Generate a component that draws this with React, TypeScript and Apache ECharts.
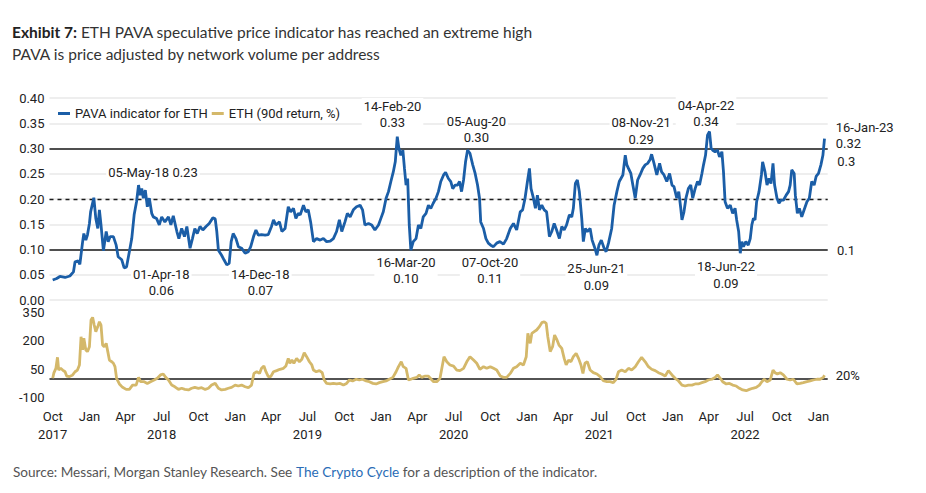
import React, { useEffect, useRef } from "react";
import * as echarts from "echarts";

// ---------- DATA ----------
const START_DATE = "2017-10-01"; // day 0 of the day offsets below

// PAVA indicator for ETH: day offset from START_DATE, value
const pavaDay = [
  0, 10, 18, 31, 43, 52, 56, 64, 68, 75, 78, 83, 87, 92, 95, 103, 108, 113, 117, 121,
  127, 134, 139, 144, 152, 159, 164, 173, 179, 185, 192, 198, 204, 210, 215, 219, 223, 227, 232, 237,
  242, 248, 252, 260, 267, 273, 281, 290, 296, 302, 311, 316, 323, 330, 336, 344, 350, 356, 362, 369,
  376, 384, 392, 401, 407, 411, 415, 423, 429, 436, 442, 447, 452, 459, 465, 473, 482, 490, 496, 503,
  509, 515, 523, 532, 540, 548, 553, 559, 568, 574, 582, 590, 596, 603, 609, 615,
  620, 628, 634, 640, 646, 653, 661, 670, 678, 686, 695, 703, 711, 718, 724, 732, 738, 745, 753, 761,
  770, 776, 782, 791, 799, 807, 816, 822, 828, 835, 841, 847, 853, 858, 863, 867, 872, 877, 881, 885,
  889, 893, 897, 903, 910, 916, 922, 928, 935, 941, 947, 953, 960, 966, 972, 979, 984, 991, 997, 1002,
  1008, 1014, 1019, 1024, 1029, 1034, 1039, 1045, 1052, 1058, 1064, 1069, 1072, 1079, 1085, 1091, 1097, 1104, 1112, 1120,
  1129, 1137, 1146, 1154, 1162, 1171, 1177, 1183, 1189, 1194, 1198, 1204, 1209, 1214, 1219, 1225, 1231, 1237, 1244, 1250,
  1256, 1262, 1269, 1275, 1281, 1287, 1294, 1300, 1304, 1309, 1314, 1319, 1325, 1329, 1334, 1339, 1346, 1351, 1358, 1363,
  1368, 1374, 1381, 1386, 1392, 1400, 1406, 1413, 1419,
  1428, 1434, 1438, 1442, 1448, 1453, 1459, 1465, 1471, 1478, 1484, 1490, 1496, 1500, 1506, 1513, 1520, 1525, 1531, 1538,
  1545, 1551, 1556, 1563, 1568, 1573, 1576, 1581, 1586, 1592, 1598, 1603, 1609, 1615, 1620, 1626, 1630, 1635, 1640, 1645,
  1649, 1653, 1659, 1665, 1670, 1676, 1680, 1684, 1690, 1697, 1703, 1709, 1713, 1718, 1722, 1726, 1730, 1736, 1742, 1747,
  1751, 1755, 1759, 1763, 1769, 1775, 1778, 1784, 1789, 1794, 1799, 1804, 1808, 1814, 1819, 1824, 1830, 1837, 1843, 1847,
  1851, 1857, 1860, 1865, 1870, 1876, 1882, 1889, 1895, 1901, 1907, 1912, 1918, 1924, 1929, 1933,
];
const pavaValue = [
  0.040, 0.043, 0.047, 0.045, 0.048, 0.056, 0.076, 0.078, 0.071, 0.116, 0.132, 0.119, 0.129, 0.152, 0.175, 0.203, 0.162, 0.142, 0.179, 0.149,
  0.098, 0.136, 0.116, 0.126, 0.126, 0.109, 0.086, 0.080, 0.064, 0.066, 0.096, 0.122, 0.169, 0.195, 0.228, 0.208, 0.221, 0.202, 0.218, 0.185,
  0.202, 0.172, 0.165, 0.162, 0.149, 0.165, 0.155, 0.165, 0.149, 0.167, 0.136, 0.122, 0.142, 0.126, 0.146, 0.103, 0.122, 0.142, 0.132, 0.146,
  0.139, 0.146, 0.152, 0.163, 0.161, 0.136, 0.099, 0.089, 0.080, 0.070, 0.073, 0.116, 0.132, 0.122, 0.106, 0.103, 0.093, 0.096, 0.106, 0.126,
  0.139, 0.129, 0.130, 0.129, 0.130, 0.146, 0.159, 0.149, 0.155, 0.136, 0.142, 0.185, 0.175, 0.182, 0.162, 0.172,
  0.169, 0.188, 0.175, 0.179, 0.155, 0.116, 0.122, 0.119, 0.122, 0.116, 0.117, 0.122, 0.136, 0.159, 0.136, 0.155, 0.172, 0.165, 0.179, 0.185,
  0.188, 0.179, 0.149, 0.152, 0.149, 0.139, 0.149, 0.162, 0.175, 0.202, 0.215, 0.235, 0.254, 0.274, 0.324, 0.301, 0.287, 0.297, 0.261, 0.228,
  0.241, 0.149, 0.099, 0.116, 0.122, 0.149, 0.142, 0.165, 0.172, 0.188, 0.182, 0.192, 0.202, 0.215, 0.235, 0.248, 0.253, 0.241, 0.235, 0.221,
  0.228, 0.228, 0.235, 0.215, 0.238, 0.274, 0.297, 0.291, 0.268, 0.251, 0.228, 0.202, 0.155, 0.142, 0.122, 0.113, 0.109, 0.106, 0.113, 0.116,
  0.111, 0.122, 0.142, 0.152, 0.139, 0.175, 0.179, 0.202, 0.235, 0.261, 0.221, 0.202, 0.182, 0.208, 0.179, 0.188, 0.179, 0.175, 0.126, 0.136,
  0.152, 0.139, 0.122, 0.146, 0.139, 0.149, 0.169, 0.165, 0.182, 0.231, 0.238, 0.215, 0.162, 0.116, 0.142, 0.136, 0.142, 0.119, 0.103, 0.089,
  0.109, 0.119, 0.103, 0.096, 0.113, 0.142, 0.188, 0.215, 0.235,
  0.248, 0.287, 0.268, 0.261, 0.251, 0.228, 0.202, 0.238, 0.248, 0.261, 0.268, 0.271, 0.278, 0.289, 0.271, 0.248, 0.271, 0.254, 0.248, 0.235,
  0.251, 0.228, 0.225, 0.202, 0.215, 0.182, 0.159, 0.175, 0.202, 0.221, 0.228, 0.202, 0.221, 0.235, 0.228, 0.251, 0.268, 0.287, 0.327, 0.334,
  0.301, 0.297, 0.294, 0.297, 0.284, 0.294, 0.254, 0.195, 0.182, 0.188, 0.172, 0.182, 0.159, 0.136, 0.093, 0.116, 0.106, 0.116, 0.109, 0.122,
  0.149, 0.162, 0.159, 0.195, 0.215, 0.248, 0.274, 0.254, 0.228, 0.241, 0.231, 0.271, 0.228, 0.202, 0.192, 0.198, 0.198, 0.208, 0.215, 0.228,
  0.258, 0.251, 0.208, 0.172, 0.182, 0.165, 0.179, 0.195, 0.202, 0.235, 0.228, 0.245, 0.251, 0.268, 0.287, 0.320,
];

// ETH 90-day return (%): day offset from START_DATE, value
const ethDay = [
  0, 3, 8, 12, 15, 20, 25, 31, 35, 42, 50, 56, 62, 67, 71, 75, 78, 83, 87, 92,
  96, 100, 104, 108, 113, 117, 121, 125, 129, 134, 138, 142, 148, 152, 156, 160, 167, 175, 184, 192,
  200, 209, 215, 220, 229, 237, 245, 254, 262, 270, 277, 283, 290, 298, 306, 315, 323, 331, 340, 348,
  356, 365, 373, 382, 390, 398, 407, 415, 423, 432, 440, 448, 457, 465, 473, 482, 490, 498, 504, 511,
  518, 523, 529, 534, 540, 546, 553, 561, 569, 578, 584, 590, 594, 599, 604, 611, 618, 624, 630, 636,
  643, 649, 653, 660, 668, 675, 680, 686, 695, 703, 711, 720, 728, 736, 743, 751, 760, 768, 776, 785,
  793, 802, 810, 818, 827, 835, 843, 852, 860, 866, 873, 878, 885, 891, 897, 903, 912, 918, 924, 933,
  941, 948, 954, 962, 970, 980, 987, 995, 1004, 1012, 1020, 1029, 1037, 1045, 1054, 1062, 1070, 1079, 1087, 1096,
  1104, 1112, 1121, 1129, 1137, 1146, 1154, 1162, 1171, 1179, 1186, 1190, 1196, 1200, 1206, 1212, 1219, 1225, 1231, 1236,
  1240, 1246, 1252, 1257, 1263, 1268, 1275, 1281, 1286, 1292, 1298, 1304, 1311, 1317, 1323, 1328, 1333, 1339, 1346, 1354,
  1363, 1371, 1379, 1388, 1396, 1404, 1411, 1417, 1425, 1434, 1442, 1450, 1459, 1467, 1475, 1484, 1492, 1500, 1509, 1517,
  1525, 1534, 1542, 1551, 1559, 1567, 1576, 1584, 1592, 1601, 1609, 1617, 1626, 1634, 1642, 1651, 1659, 1665, 1672, 1678,
  1687, 1695, 1703, 1712, 1720, 1728, 1737, 1745, 1753, 1762, 1770, 1776, 1782, 1789, 1797, 1804, 1809, 1815, 1822, 1830,
  1839, 1847, 1855, 1864, 1872, 1880, 1889, 1897, 1905, 1914, 1922, 1930, 1933,
];
const ethReturn = [
  1, 30, 54, 113, 45, 54, 45, 36, 13, 10, 19, 36, 45, 72, 222, 152, 214, 152, 143, 169,
  311, 325, 284, 249, 276, 302, 284, 178, 169, 187, 143, 98, 89, 81, 63, 1, -29, -47, -58, -58,
  -35, -35, 6, -17, -17, -26, -17, -8, 1, 19, 24, 6, -8, -35, -44, -58, -52, -58, -61, -52,
  -47, -52, -49, -58, -52, -35, -26, -52, -61, -58, -52, -47, -35, -40, -35, -44, -49, -35, 27, 36,
  27, 54, 66, 36, 10, 10, 36, 42, 49, 54, 66, 107, 81, 98, 81, 107, 89, 102, 137, 116,
  89, 72, 45, 36, 42, 31, -8, -26, -29, -26, -29, -26, -35, -26, -8, -13, -4, -8, -4, -13,
  -17, -26, -29, -22, -17, -13, -4, 6, 36, 63, 89, 63, 54, -8, -4, 1, 6, 19, 6, 13,
  13, -4, -17, -17, 1, 116, 89, 72, 66, 45, 42, 54, 89, 116, 98, 81, 49, 63, 54, 63,
  54, 45, 13, 6, 6, 27, 54, 63, 81, 72, 116, 240, 187, 240, 249, 258, 276, 297, 302, 293,
  222, 143, 169, 231, 205, 178, 160, 107, 72, 98, 89, 116, 134, 107, 72, 27, 81, 89, 45, 31,
  24, 10, -12, -17, -17, -22, -4, 36, 45, 36, 54, 45, 63, 89, 113, 89, 63, 49, 42, 31,
  24, 13, 42, 19, 1, -12, -35, -40, -35, -35, -29, -29, -22, -17, -8, -4, 6, 19, 1, -17,
  -29, -26, -35, -40, -52, -61, -65, -58, -52, -47, -35, -17, -4, -17, -8, 45, 31, 24, 31, 19,
  -4, -8, -4, -29, -26, -22, -17, -13, -8, -4, -4, 6, 17,
];

// Axis ticks
const xTickDates = [
  "2017-10-01", "2018-01-01", "2018-04-01", "2018-07-01", "2018-10-01", "2019-01-01",
  "2019-04-01", "2019-07-01", "2019-10-01", "2020-01-01", "2020-04-01", "2020-07-01",
  "2020-10-01", "2021-01-01", "2021-04-01", "2021-07-01", "2021-10-01", "2022-01-01",
  "2022-04-01", "2022-07-01", "2022-10-01", "2023-01-01",
];
const xTickMonths = [
  "Oct", "Jan", "Apr", "Jul", "Oct", "Jan", "Apr", "Jul", "Oct", "Jan", "Apr", "Jul",
  "Oct", "Jan", "Apr", "Jul", "Oct", "Jan", "Apr", "Jul", "Oct", "Jan",
];
const xTickYears = [
  "2017", "", "", "2018", "", "", "", "2019", "", "", "", "2020",
  "", "", "", "2021", "", "", "", "2022", "", "",
];
const returnTickLabels = ["-100", "50", "200", "350"];

// Thresholds on the PAVA panel
const pavaThresholdsSolid = [0.3, 0.1];
const pavaThresholdDashed = 0.2;
const returnReference = 0;
const returnReferenceLabel = "20%";

// Annotations (text only)
const annotations = [
  "05-May-18 0.23",
  "01-Apr-18\n0.06",
  "14-Dec-18\n0.07",
  "14-Feb-20\n0.33",
  "16-Mar-20\n0.10",
  "05-Aug-20\n0.30",
  "07-Oct-20\n0.11",
  "25-Jun-21\n0.09",
  "08-Nov-21\n0.29",
  "04-Apr-22\n0.34",
  "18-Jun-22\n0.09",
];
const rightLabels = ["16-Jan-23", "0.32", "0.3", "0.1"];

// ---------- LAYOUT ----------
const annotationPos: [number, number][] = [
  [153, 172.3],
  [161.3, 282.3],
  [260.3, 282.3],
  [392.5, 114.7],
  [406, 270.7],
  [476.3, 129.6],
  [490, 270.7],
  [596.3, 277],
  [641.2, 131],
  [706, 113.7],
  [726, 275.2],
];
const rightLabelPos: [number, number][] = [
  [835.7, 127],
  [835.7, 143.7],
  [837.3, 161.7],
  [837, 250],
];

const FONT = "Roboto, 'Noto Sans', sans-serif";
const TITLE_FONT = "Lato, 'Open Sans', sans-serif";
const BLUE = "#1b5ea7";
const GOLD = "#d4b86a";

function parseDay(s: string): number {
  const [y, m, d] = s.split("-").map(Number);
  return Date.UTC(y, m - 1, d);
}
const DAY = 86400000;
const startTs = parseDay(START_DATE);

export default function App() {
  const ref = useRef<HTMLDivElement>(null);

  useEffect(() => {
    if (!ref.current) return;
    const chart = echarts.init(ref.current, undefined, { renderer: "svg" });

    const pavaData = pavaDay.map((d, i) => [startTs + d * DAY, pavaValue[i]]);
    const ethData = ethDay.map((d, i) => [startTs + d * DAY, ethReturn[i]]);
    const tickTs = xTickDates.map(parseDay);
    const tickLabel = new Map<number, string>();
    tickTs.forEach((t, i) => {
      tickLabel.set(t, xTickYears[i] ? xTickMonths[i] + "\n" + xTickYears[i] : xTickMonths[i]);
    });

    const xMin = parseDay("2017-09-23");
    const xMax = parseDay("2023-01-24");

    const gridLeft = 49.5;
    const gridRight = 98.3;

    const textStyleBase = { fontFamily: FONT, fontSize: 13, fill: "#222" };

    const graphics: any[] = [
      {
        type: "text",
        x: 12,
        y: 32,
        style: {
          text: "{b|Exhibit 7:} ETH PAVA speculative price indicator has reached an extreme high",
          fontFamily: TITLE_FONT,
          fontSize: 15.5,
          fill: "#333",
          verticalAlign: "middle",
          rich: { b: { fontWeight: "bold", fontFamily: TITLE_FONT, fontSize: 15.5, fill: "#222" } },
        },
      },
      {
        type: "text",
        x: 12,
        y: 54,
        style: {
          text: "PAVA is price adjusted by network volume per address",
          fontFamily: TITLE_FONT,
          fontSize: 15.5,
          fill: "#333",
          verticalAlign: "middle",
        },
      },
      {
        type: "text",
        x: 13,
        y: 472,
        style: {
          text: "Source: Messari, Morgan Stanley Research. See {l|The Crypto Cycle} for a description of the indicator.",
          fontFamily: TITLE_FONT,
          fontSize: 13.6,
          fill: "#555",
          verticalAlign: "middle",
          rich: { l: { fill: "#2a6cb6", fontFamily: TITLE_FONT, fontSize: 13.6 } },
        },
      },
    ];
    annotations.forEach((t, i) => {
      graphics.push({
        type: "text",
        x: annotationPos[i][0],
        y: annotationPos[i][1],
        z: 100,
        style: {
          ...textStyleBase,
          text: t,
          align: "center",
          verticalAlign: "middle",
          lineHeight: 16.6,
          backgroundColor: "#fff",
          padding: [0, 2],
        },
      });
    });
    rightLabels.forEach((t, i) => {
      graphics.push({
        type: "text",
        x: rightLabelPos[i][0],
        y: rightLabelPos[i][1],
        style: { ...textStyleBase, text: t, align: "left", verticalAlign: "middle" },
      });
    });

    const option: any = {
      animation: false,
      backgroundColor: "#fff",
      textStyle: { fontFamily: FONT },
      legend: {
        left: 53,
        top: 102,
        icon: "rect",
        itemWidth: 12,
        itemHeight: 3,
        itemGap: 4,
        textStyle: { fontFamily: FONT, fontSize: 13, color: "#222" },
        data: ["PAVA indicator for ETH", "ETH (90d return, %)"],
      },
      grid: [
        { left: gridLeft, right: gridRight, top: 98.2, height: 202 },
        { left: gridLeft, right: gridRight, top: 312.7, height: 84.6 },
      ],
      xAxis: [
        {
          type: "value",
          gridIndex: 0,
          min: xMin,
          max: xMax,
          axisLine: { show: false },
          axisTick: { show: false },
          axisLabel: { show: false },
          splitLine: { show: false },
        },
        {
          type: "value",
          gridIndex: 1,
          min: xMin,
          max: xMax,
          axisLine: { show: false },
          axisTick: { show: false },
          splitLine: { show: false },
          axisLabel: {
            customValues: tickTs,
            formatter: (v: number) => tickLabel.get(v) ?? "",
            fontFamily: FONT,
            fontSize: 13,
            color: "#222",
            lineHeight: 18,
            margin: 10,
            verticalAlign: "top",
            showMinLabel: true,
            showMaxLabel: true,
          },
        },
      ],
      yAxis: [
        {
          type: "value",
          gridIndex: 0,
          min: 0,
          max: 0.4,
          interval: 0.05,
          axisLine: { show: false },
          axisTick: { show: false },
          axisLabel: {
            formatter: (v: number) => v.toFixed(2),
            fontFamily: FONT,
            fontSize: 13,
            color: "#222",
            margin: 5,
          },
          splitLine: { show: true, lineStyle: { color: "#e9e9e9", width: 1.5 } },
        },
        {
          type: "value",
          gridIndex: 1,
          position: "left",
          min: -100,
          max: 350,
          axisLine: { show: false },
          axisTick: { show: false },
          axisLabel: { show: false },
          splitLine: { show: false },
        },
        {
          type: "category",
          gridIndex: 1,
          position: "left",
          boundaryGap: false,
          data: returnTickLabels,
          axisLine: { show: false },
          axisTick: { show: false },
          splitLine: { show: false },
          axisLabel: { fontFamily: FONT, fontSize: 13, color: "#222", margin: 5, interval: 0 },
        },
      ],
      series: [
        {
          name: "PAVA indicator for ETH",
          type: "line",
          xAxisIndex: 0,
          yAxisIndex: 0,
          data: pavaData,
          showSymbol: false,
          symbol: "none",
          lineStyle: { color: BLUE, width: 2.8 },
          itemStyle: { color: BLUE },
          z: 5,
          markLine: {
            silent: true,
            symbol: ["none", "none"],
            label: { show: false },
            lineStyle: { color: "#1a1a1a", width: 1.6, type: "solid" },
            data: [
              ...pavaThresholdsSolid.map((v) => ({ yAxis: v })),
              { yAxis: pavaThresholdDashed, lineStyle: { type: [4, 4], color: "#1a1a1a", width: 1.3 } },
            ],
          },
        },
        {
          name: "ETH (90d return, %)",
          type: "line",
          xAxisIndex: 1,
          yAxisIndex: 1,
          data: ethData,
          showSymbol: false,
          symbol: "none",
          lineStyle: { color: GOLD, width: 2.8 },
          itemStyle: { color: GOLD },
          z: 5,
          markLine: {
            silent: true,
            symbol: ["none", "none"],
            lineStyle: { color: "#1a1a1a", width: 1.6, type: "solid" },
            label: {
              show: true,
              position: "end",
              formatter: returnReferenceLabel,
              fontFamily: FONT,
              fontSize: 13,
              color: "#222",
              distance: 8,
              offset: [0, -3],
            },
            data: [{ yAxis: returnReference }],
          },
        },
      ],
      graphic: graphics,
    };

    chart.setOption(option);
    return () => chart.dispose();
  }, []);

  return (
    <div
      ref={ref}
      style={{ position: "fixed", left: 0, top: 0, width: 926, height: 493, background: "#fff" }}
    />
  );
}
